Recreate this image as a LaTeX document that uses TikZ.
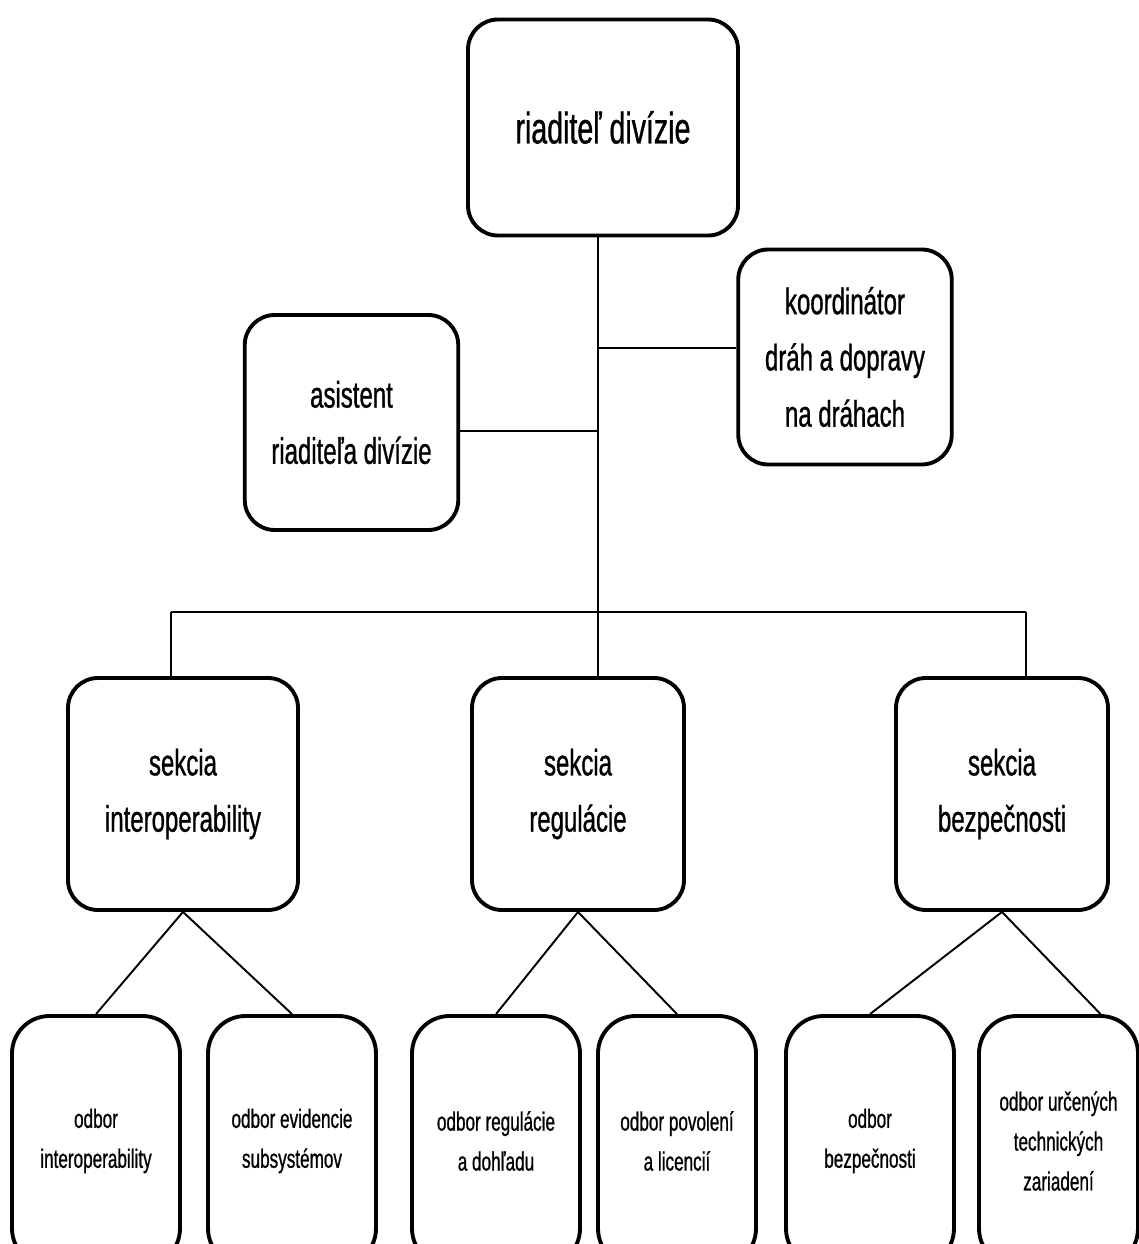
\documentclass[tikz,border=0pt]{standalone}
\usepackage{fontspec}
\setmainfont[FakeStretch=0.65,FakeBold=0.8]{Liberation Sans}
\begin{document}
\begin{tikzpicture}
	\tikzset{unit/.style = {draw, line width=2.2pt, rounded corners=0.6cm, align=center, inner sep=0pt}}
	\tikzset{head/.style = {unit, minimum width=5.4cm, minimum height=4.32cm, font=\fontsize{25}{32}\selectfont}}
	\tikzset{staff/.style = {unit, minimum width=4.27cm, minimum height=4.3cm, font=\fontsize{21}{32}\selectfont}}
	\tikzset{section/.style = {unit, minimum width=4.24cm, minimum height=4.64cm, font=\fontsize{21}{32}\selectfont}}
	\tikzset{dept/.style = {unit, rounded corners=0.75cm, minimum width=3.36cm, minimum height=5cm, font=\fontsize{15}{22.7}\selectfont}}
	\tikzset{link/.style = {line width=1.1pt}}
	\clip (0,0) rectangle (22.78,-24.88);
	% Draw director and staff
	\node[head] (dir) at (12.06,-2.55) {riaditeľ divízie};
	\node[staff] (asist) at (7.03,-8.45) {asistent\\riaditeľa divízie};
	\node[staff] (koord) at (16.9,-7.14) {koordinátor\\dráh a dopravy\\na dráhach};
	% Draw sections
	\node[section, minimum width=4.6cm] (sint) at (3.66,-15.88) {sekcia\\interoperability};
	\node[section] (sreg) at (11.56,-15.88) {sekcia\\regulácie};
	\node[section] (sbez) at (20.04,-15.88) {sekcia\\bezpečnosti};
	% Draw departments
	\node[dept] (o1) at (1.92,-22.82) {odbor\\interoperability};
	\node[dept] (o2) at (5.84,-22.82) {odbor evidencie\\subsystémov};
	\node[dept] (o3) at (9.92,-22.82) {odbor regulácie\\a dohľadu};
	\node[dept, minimum width=3.16cm] (o4) at (13.54,-22.82) {odbor povolení\\a licencií};
	\node[dept] (o5) at (17.4,-22.82) {odbor\\bezpečnosti};
	\node[dept, minimum width=3.18cm] (o6) at (21.17,-22.82) {odbor určených\\technických\\zariadení};
	% Draw connectors
	\coordinate (j1) at (11.96,-6.96);
	\coordinate (j2) at (11.96,-8.62);
	\coordinate (j3) at (11.96,-12.24);
	\coordinate (l) at (3.42,-12.24);
	\coordinate (r) at (20.52,-12.24);
	\draw[link] (j1 |- dir.south) -- (j3);
	\draw[link] (j1) -- (j1 -| koord.west);
	\draw[link] (j2) -- (j2 -| asist.east);
	\draw[link] (l) -- (r);
	\draw[link] (l) -- (l |- sint.north);
	\draw[link] (j3) -- (j3 |- sreg.north);
	\draw[link] (r) -- (r |- sbez.north);
	\draw[link] (o1.north) -- (sint.south) -- (o2.north);
	\draw[link] (o3.north) -- (sreg.south) -- (o4.north);
	\draw[link] (o5.north) -- (sbez.south) -- ([xshift=0.84cm]o6.north);
\end{tikzpicture}
\end{document}
